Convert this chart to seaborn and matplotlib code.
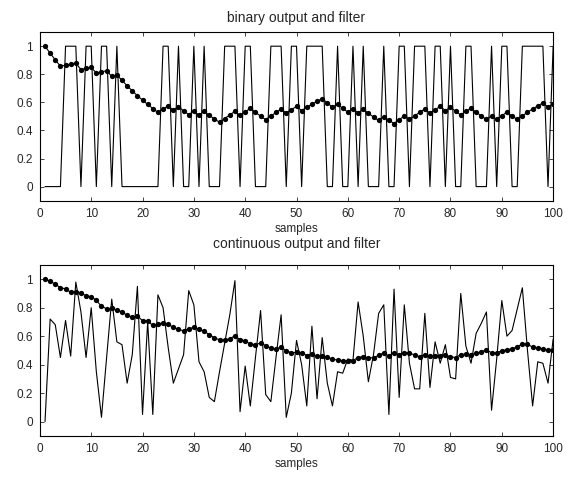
import numpy as np
import pandas as pd
import matplotlib
matplotlib.use("Agg")
import matplotlib.pyplot as plt
import seaborn as sns

# samples 1..100
samples = list(range(1, 101))

binary_out = [0, 0, 0, 0, 1, 1, 1, 0, 1, 1,
              0, 1, 1, 0, 1, 0, 0, 0, 0, 0,
              0, 0, 0, 1, 1, 0, 1, 0, 0, 1,
              0, 1, 0, 0, 0, 1, 1, 1, 0, 1,
              1, 0, 0, 0, 1, 1, 1, 0, 1, 1,
              0, 1, 1, 1, 1, 0, 0, 1, 0, 0,
              1, 0, 1, 0, 0, 0, 1, 0, 0, 1,
              1, 0, 1, 1, 1, 0, 1, 1, 0, 1,
              0, 0, 1, 1, 0, 0, 0, 1, 0, 1,
              1, 0, 0, 1, 1, 1, 1, 1, 0, 1]

binary_filt = [1.000, 0.950, 0.903, 0.857, 0.865, 0.871, 0.878, 0.834, 0.842, 0.850,
               0.808, 0.817, 0.826, 0.785, 0.796, 0.756, 0.718, 0.682, 0.648, 0.616,
               0.585, 0.556, 0.528, 0.552, 0.574, 0.545, 0.568, 0.540, 0.513, 0.537,
               0.510, 0.535, 0.508, 0.482, 0.458, 0.485, 0.511, 0.536, 0.509, 0.533,
               0.557, 0.529, 0.502, 0.477, 0.503, 0.528, 0.552, 0.524, 0.548, 0.571,
               0.542, 0.565, 0.587, 0.607, 0.627, 0.596, 0.566, 0.588, 0.558, 0.530,
               0.554, 0.526, 0.550, 0.522, 0.496, 0.471, 0.498, 0.473, 0.449, 0.477,
               0.503, 0.478, 0.504, 0.529, 0.552, 0.525, 0.548, 0.571, 0.542, 0.565,
               0.537, 0.510, 0.535, 0.558, 0.530, 0.504, 0.478, 0.504, 0.479, 0.505,
               0.530, 0.504, 0.478, 0.504, 0.529, 0.553, 0.575, 0.596, 0.567, 0.588]

cont_out = [0.00, 0.72, 0.68, 0.45, 0.71, 0.46, 0.98, 0.77, 0.45, 0.80,
            0.35, 0.03, 0.45, 0.86, 0.56, 0.54, 0.27, 0.47, 0.95, 0.05,
            0.70, 0.05, 0.89, 0.80, 0.52, 0.27, 0.37, 0.47, 0.92, 0.82,
            0.42, 0.35, 0.17, 0.14, 0.35, 0.55, 0.75, 0.99, 0.07, 0.39,
            0.11, 0.45, 0.78, 0.19, 0.14, 0.45, 0.75, 0.03, 0.20, 0.57,
            0.40, 0.11, 0.67, 0.16, 0.59, 0.27, 0.11, 0.35, 0.34, 0.44,
            0.43, 0.84, 0.60, 0.28, 0.47, 0.76, 0.82, 0.05, 0.93, 0.17,
            0.82, 0.41, 0.23, 0.23, 0.76, 0.24, 0.56, 0.41, 0.54, 0.31,
            0.30, 0.90, 0.53, 0.41, 0.62, 0.69, 0.77, 0.08, 0.44, 0.85,
            0.60, 0.64, 0.79, 0.94, 0.50, 0.11, 0.42, 0.41, 0.27, 0.58]

cont_filt = [1.000, 0.986, 0.965, 0.941, 0.932, 0.908, 0.912, 0.905, 0.882, 0.878,
             0.851, 0.810, 0.792, 0.795, 0.783, 0.771, 0.746, 0.732, 0.743, 0.708,
             0.708, 0.675, 0.686, 0.692, 0.683, 0.662, 0.647, 0.638, 0.652, 0.661,
             0.648, 0.634, 0.611, 0.587, 0.575, 0.573, 0.582, 0.603, 0.576, 0.567,
             0.544, 0.540, 0.552, 0.534, 0.514, 0.511, 0.523, 0.498, 0.483, 0.487,
             0.483, 0.464, 0.474, 0.458, 0.464, 0.454, 0.437, 0.433, 0.428, 0.429,
             0.429, 0.450, 0.457, 0.448, 0.449, 0.465, 0.483, 0.461, 0.484, 0.468,
             0.485, 0.481, 0.468, 0.456, 0.471, 0.459, 0.464, 0.461, 0.465, 0.457,
             0.449, 0.471, 0.474, 0.471, 0.479, 0.490, 0.504, 0.483, 0.481, 0.499,
             0.504, 0.511, 0.525, 0.546, 0.544, 0.522, 0.517, 0.512, 0.500, 0.504]

xticks = list(range(0, 101, 10))
yticks = [0, 0.2, 0.4, 0.6, 0.8, 1]
yticklabels = ["0", "0.2", "0.4", "0.6", "0.8", "1"]

sns.set_style("ticks")
plt.rcParams["font.family"] = ["Liberation Sans", "DejaVu Sans"]
plt.rcParams["font.size"] = 8

fig = plt.figure(figsize=(5.78, 4.8), dpi=100)
ax1 = fig.add_axes([0.069, 0.582, 0.888, 0.351])
ax2 = fig.add_axes([0.069, 0.092, 0.888, 0.356])

df1 = pd.DataFrame({"samples": samples, "out": binary_out, "filt": binary_filt})
df2 = pd.DataFrame({"samples": samples, "out": cont_out, "filt": cont_filt})

for ax, df, title, tpad in [(ax1, df1, "binary output and filter", 7),
                            (ax2, df2, "continuous output and filter", 12)]:
    sns.lineplot(data=df, x="samples", y="out", ax=ax, color="black", linewidth=0.8)
    sns.lineplot(data=df, x="samples", y="filt", ax=ax, color="black", linewidth=0.8,
                 marker="o", markersize=3.8, markeredgewidth=0)
    ax.set_xlim(0, 100)
    ax.set_ylim(-0.1, 1.1)
    ax.set_xticks(xticks)
    ax.set_yticks(yticks)
    ax.set_yticklabels(yticklabels)
    ax.tick_params(direction="in", top=True, right=True, length=3, width=0.6,
                   labelsize=8.5)
    ax.tick_params(axis="x", pad=5.5)
    ax.tick_params(axis="y", pad=5)
    for s in ax.spines.values():
        s.set_linewidth(0.8)
        s.set_color("black")
    ax.set_title(title, fontsize=10, pad=tpad)
    ax.set_xlabel("samples", fontsize=8.5, labelpad=2)
    ax.set_ylabel("")

fig.savefig("out.png", dpi=100)
